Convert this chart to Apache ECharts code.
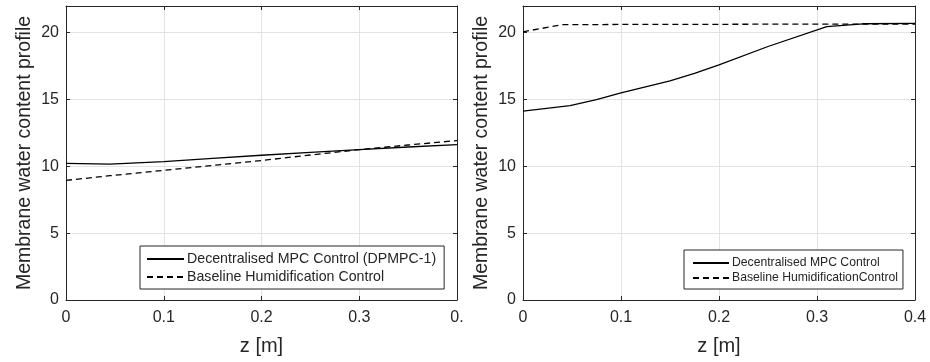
<!DOCTYPE html>
<html>
<head>
<meta charset="utf-8">
<script src="https://cdn.jsdelivr.net/npm/echarts@6/dist/echarts.min.js"></script>
<style>
  html, body { margin: 0; padding: 0; background: #fff; }
  #chart { width: 930px; height: 362px; }
</style>
</head>
<body>
<div id="chart"></div>
<script>
// left panel (DPMPC-1)
var zLeft = [0, 0.045, 0.1, 0.15, 0.2, 0.25, 0.3, 0.35, 0.4];
var mpcLeft = [10.22, 10.17, 10.35, 10.6, 10.83, 11.05, 11.25, 11.45, 11.62];
var baseLeft = [8.95, 9.3, 9.7, 10.07, 10.44, 10.85, 11.25, 11.6, 11.93];

// right panel
var zRight = [0, 0.048, 0.075, 0.1, 0.125, 0.15, 0.175, 0.2, 0.25, 0.31, 0.347, 0.4];
var mpcRight = [14.13, 14.55, 15.0, 15.5, 15.95, 16.4, 16.95, 17.6, 18.97, 20.45, 20.67, 20.7];
var zBase = [0, 0.04, 0.1, 0.2, 0.3, 0.4];
var baseRight = [20.07, 20.6, 20.62, 20.63, 20.65, 20.65];

var namesLeft = ['Decentralised MPC Control (DPMPC-1)', 'Baseline Humidification Control'];
var namesRight = ['Decentralised MPC Control', 'Baseline HumidificationControl'];
var yName = 'Membrane water content profile';
var xName = 'z [m]';

function pairs(x, y) {
    var out = [];
    for (var i = 0; i < x.length; i++) out.push([x[i], y[i]]);
    return out;
}

var txt = '#262626';
var font = 'Liberation Sans, Arial, Helvetica, sans-serif';

function xAx(grid, main, cut) {
    return {
        type: 'value', gridIndex: grid, min: 0, max: 0.4, interval: 0.1,
        position: main ? 'bottom' : 'top',
        name: main ? xName : '', nameLocation: 'middle', nameGap: 36,
        nameTextStyle: { color: txt, fontSize: 20, fontFamily: font },
        axisLine: { show: true, onZero: false, lineStyle: { color: txt, width: 1 } },
        axisTick: { show: true, inside: true, length: 4, lineStyle: { color: txt } },
        axisLabel: {
            show: main, color: txt, fontSize: 16, fontFamily: font, margin: 10,
            formatter: function (v) {
                if (cut && v === 0.4) return '0.';
                return v === 0 ? '0' : v.toFixed(1);
            }
        },
        splitLine: { show: main, lineStyle: { color: '#e3e3e3', width: 1 } }
    };
}

function yAx(grid, main) {
    return {
        type: 'value', gridIndex: grid, min: 0, max: 22, interval: 5,
        position: main ? 'left' : 'right',
        name: main ? yName : '', nameLocation: 'middle', nameGap: 31,
        nameTextStyle: { color: txt, fontSize: 19.5, fontFamily: font },
        axisLine: { show: true, onZero: false, lineStyle: { color: txt, width: 1 } },
        axisTick: { show: true, inside: true, length: 4, lineStyle: { color: txt } },
        axisLabel: { show: main, color: txt, fontSize: 16, fontFamily: font, margin: 7,
            formatter: function (v) { return v % 5 === 0 ? String(v) : ''; } },
        splitLine: { show: main, lineStyle: { color: '#e3e3e3', width: 1 } }
    };
}

function line(name, data, xi, yi, dashed) {
    return {
        name: name, type: 'line', xAxisIndex: xi, yAxisIndex: yi,
        data: data, showSymbol: false, symbol: 'none', animation: false,
        lineStyle: { color: '#000', width: 1.3, type: dashed ? [6, 4] : 'solid' },
        itemStyle: { color: '#000' }
    };
}

var chart = echarts.init(document.getElementById('chart'));
var option = {
    animation: false,
    backgroundColor: '#fff',
    grid: [
        { left: 66, top: 6, width: 391, height: 294 },
        { left: 523, top: 6, width: 392, height: 294 }
    ],
    xAxis: [xAx(0, true, true), xAx(0, false), xAx(1, true, false), xAx(1, false)],
    yAxis: [yAx(0, true), yAx(0, false), yAx(1, true), yAx(1, false)],
    legend: [
        {
            data: namesLeft, orient: 'vertical', left: 140, top: 246,
            itemWidth: 37, itemHeight: 8, itemGap: 4,
            padding: [6, 8, 5, 6],
            itemStyle: { color: 'transparent', borderWidth: 0 },
            backgroundColor: '#fff', borderColor: txt, borderWidth: 1, borderRadius: 0,
            textStyle: { color: txt, fontSize: 14.2, fontFamily: font, padding: [0, 0, 0, -2] }
        },
        {
            data: namesRight, orient: 'vertical', left: 684, top: 250,
            itemWidth: 36, itemHeight: 8, itemGap: 3,
            padding: [7, 5, 5, 8],
            itemStyle: { color: 'transparent', borderWidth: 0 },
            backgroundColor: '#fff', borderColor: txt, borderWidth: 1, borderRadius: 0,
            textStyle: { color: txt, fontSize: 12.2, fontFamily: font, padding: [0, 0, 0, -2] }
        }
    ],
    series: [
        line(namesLeft[0], pairs(zLeft, mpcLeft), 0, 0, false),
        line(namesLeft[1], pairs(zLeft, baseLeft), 0, 0, true),
        line(namesRight[0], pairs(zRight, mpcRight), 2, 2, false),
        line(namesRight[1], pairs(zBase, baseRight), 2, 2, true)
    ]
};
chart.setOption(option);
</script>
</body>
</html>
